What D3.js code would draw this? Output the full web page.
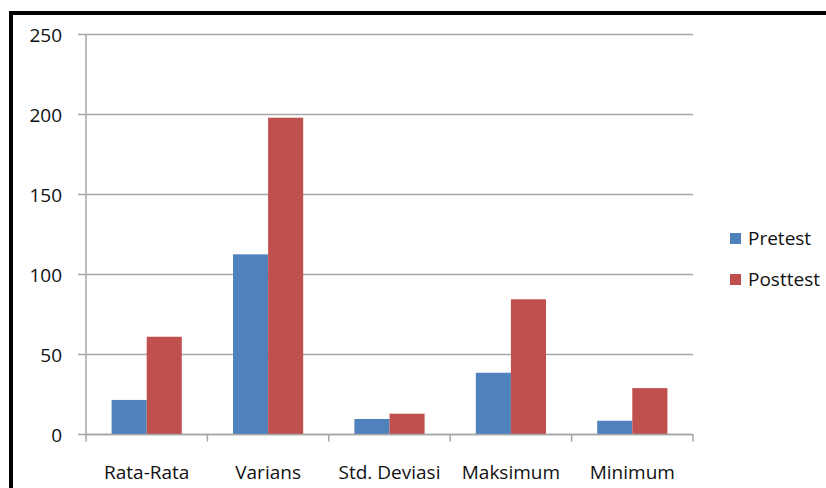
<!DOCTYPE html>
<html lang="en">
<head>
    <meta charset="UTF-8">
    <title>Pretest vs Posttest</title>
    <script src="https://d3js.org/d3.v7.min.js"></script>
    <style>
        body { margin: 0; background: white; }
        text { font-family: "Open Sans", sans-serif; fill: #111; }
    </style>
</head>
<body>
    <svg id='svg'></svg>
    <script>
        const categories = ['Rata-Rata', 'Varians', 'Std. Deviasi', 'Maksimum', 'Minimum'];
        const seriesNames = ['Pretest', 'Posttest'];
        const pretest = [21.6, 112.6, 9.7, 38.6, 8.6];
        const posttest = [61.1, 198, 13, 84.5, 29];
        const yTicks = [0, 50, 100, 150, 200, 250];
        const colors = ['#4f81bd', '#c0504d'];

        const width = 826;
        const height = 488;
        const svg = d3.select('#svg')
            .attr('width', width)
            .attr('height', height);

        // frame (left and top only are visible)
        svg.append('line').attr('x1', 11).attr('x2', 11).attr('y1', 11).attr('y2', height)
            .attr('stroke', 'black').attr('stroke-width', 4);
        svg.append('line').attr('x1', 9).attr('x2', width).attr('y1', 13).attr('y2', 13)
            .attr('stroke', 'black').attr('stroke-width', 4);

        const plotLeft = 86, plotRight = 693, plotTop = 34.5, plotBottom = 434.5;

        const x0 = d3.scaleBand().domain(categories).range([plotLeft, plotRight]).padding(0);
        const x1 = d3.scaleBand().domain(seriesNames).range([0, x0.bandwidth()])
            .paddingInner(0).paddingOuter(0.73);
        const y = d3.scaleLinear().domain([0, 250]).range([plotBottom, plotTop]);

        // gridlines
        svg.append('g')
            .selectAll('line')
            .data(yTicks)
            .enter()
            .append('line')
            .attr('x1', plotLeft - 8)
            .attr('x2', plotRight)
            .attr('y1', d => y(d))
            .attr('y2', d => y(d))
            .attr('stroke', '#a6a6a6')
            .attr('stroke-width', 1.5);

        // y labels
        svg.append('g')
            .selectAll('text')
            .data(yTicks)
            .enter()
            .append('text')
            .attr('x', 62)
            .attr('y', d => y(d) + 7)
            .attr('text-anchor', 'end')
            .style('font-size', '19px')
            .text(d => d);

        // bars
        const rows = categories.map((c, i) => ({ cat: c, vals: [pretest[i], posttest[i]] }));
        svg.append('g')
            .selectAll('g')
            .data(rows)
            .enter()
            .append('g')
            .attr('transform', d => 'translate(' + x0(d.cat) + ',0)')
            .selectAll('rect')
            .data(d => d.vals.map((v, j) => ({ name: seriesNames[j], v: v, j: j })))
            .enter()
            .append('rect')
            .attr('x', d => x1(d.name))
            .attr('width', x1.bandwidth())
            .attr('y', d => y(d.v))
            .attr('height', d => y(0) - y(d.v))
            .attr('fill', d => colors[d.j]);

        // y axis line
        svg.append('line')
            .attr('x1', plotLeft).attr('x2', plotLeft)
            .attr('y1', plotTop).attr('y2', plotBottom)
            .attr('stroke', '#a6a6a6').attr('stroke-width', 1.5);

        // x axis line + ticks
        svg.append('line')
            .attr('x1', plotLeft).attr('x2', plotRight)
            .attr('y1', plotBottom).attr('y2', plotBottom)
            .attr('stroke', '#a6a6a6').attr('stroke-width', 1.5);
        const bounds = categories.map(c => x0(c)).concat([plotRight]);
        svg.append('g')
            .selectAll('line')
            .data(bounds)
            .enter()
            .append('line')
            .attr('x1', d => d).attr('x2', d => d)
            .attr('y1', plotBottom).attr('y2', plotBottom + 7)
            .attr('stroke', '#a6a6a6').attr('stroke-width', 1.5);

        // x labels
        svg.append('g')
            .selectAll('text')
            .data(categories)
            .enter()
            .append('text')
            .attr('x', d => x0(d) + x0.bandwidth() / 2)
            .attr('y', 479)
            .attr('text-anchor', 'middle')
            .style('font-size', '19px')
            .text(d => d);

        // legend
        const legend = svg.append('g')
            .selectAll('g')
            .data(seriesNames)
            .enter()
            .append('g')
            .attr('transform', (d, i) => 'translate(730,' + (233 + i * 41) + ')');
        legend.append('rect')
            .attr('width', 11).attr('height', 11)
            .attr('fill', (d, i) => colors[i]);
        legend.append('text')
            .attr('x', 18).attr('y', 12)
            .style('font-size', '19px')
            .text(d => d);
    </script>
</body>
</html>
